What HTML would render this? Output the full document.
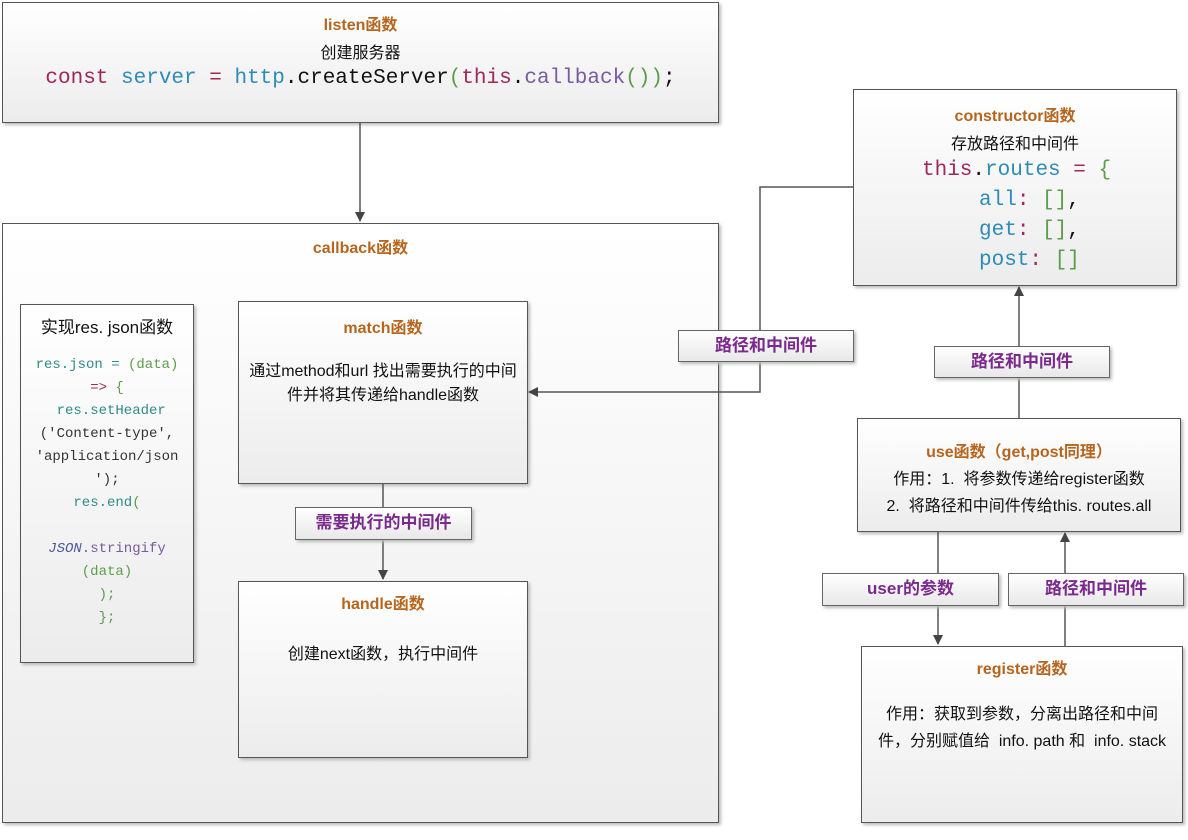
<!DOCTYPE html>
<html><head><meta charset="utf-8"><style>
body{margin:0;width:1188px;height:840px;background:#fff;position:relative;overflow:hidden;font-family:"Liberation Sans","Noto Sans CJK SC",sans-serif;}
.b{position:absolute;box-sizing:border-box;border:1px solid #555;background:linear-gradient(#fff,#ececec);box-shadow:2px 2px 3px #bbb;text-align:center;font-size:16px;color:#111}
.t{color:#b5651d;font-weight:bold;font-size:16px}
.l{position:absolute;box-sizing:border-box;border:1px solid #666;background:linear-gradient(#fff,#e8e8e8);box-shadow:2px 2px 3px #bbb;text-align:center;color:#7a2a8c;font-weight:bold;font-size:17px;line-height:29px}
.m{font-family:"Liberation Mono",monospace}
svg{position:absolute;left:0;top:0}
</style></head><body>
<div class="b" style="left:2px;top:2px;width:717px;height:121px;padding-top:8px">
<div class="t">listen函数</div><div style="margin-top:4px">创建服务器</div>
<div class="m" style="font-size:21px;margin-top:4px"><span style="color:#a0275a">const</span> <span style="color:#2e8bb5">server</span> <span style="color:#a0275a">=</span> <span style="color:#2e8bb5">http</span>.createServer<span style="color:#5a9e4a">(</span><span style="color:#a0275a">this</span>.<span style="color:#7a5aa0">callback</span><span style="color:#5a9e4a">())</span>;</div>
</div>
<div class="b" style="left:2px;top:223px;width:717px;height:600px;padding-top:10px"><div class="t">callback函数</div></div>
<div class="b" style="left:20px;top:304px;width:174px;height:359px;padding-top:8px">
<div style="font-size:17px">实现res. json函数</div>
<div class="m" style="font-size:14px;line-height:23px;margin-top:16px;color:#2e8b8b">res.json = <span style="color:#5a9e4a">(data)</span><br><span style="color:#a0275a">=&gt;</span> <span style="color:#5a9e4a">{</span><br>&nbsp;res.setHeader<br><span style="color:#333">('Content-type',</span><br><span style="color:#333">'application/json</span><br><span style="color:#333">');</span><br>res.end<span style="color:#5a9e4a">(</span><br><br><i style="color:#4a5aa0">JSON</i><span style="color:#7a5aa0">.stringify</span><br><span style="color:#5a9e4a">(data)</span><br><span style="color:#5a9e4a">);</span><br><span style="color:#5a9e4a">};</span></div>
</div>
<div class="b" style="left:238px;top:301px;width:290px;height:183px;padding-top:12px">
<div class="t">match函数</div><div style="margin-top:22px;line-height:24px;padding:0 10px">通过method和url&nbsp;找出需要执行的中间件并将其传递给handle函数</div></div>
<div class="b" style="left:238px;top:581px;width:290px;height:177px;padding-top:8px">
<div class="t">handle函数</div><div style="margin-top:26px">创建next函数，执行中间件</div></div>
<div class="b" style="left:853px;top:89px;width:324px;height:197px;padding-top:12px">
<div class="t">constructor函数</div><div style="margin-top:4px">存放路径和中间件</div>
<div class="m" style="font-size:21px;line-height:30px;text-align:left;padding-left:68px;margin-top:2px"><span style="color:#a0275a">this</span>.<span style="color:#2e8bb5">routes</span> <span style="color:#a0275a">=</span> <span style="color:#5a9e4a">{</span><br><span style="margin-left:57px;color:#2e8bb5">all</span><span style="color:#a0275a">:</span> <span style="color:#5a9e4a">[]</span>,<br><span style="margin-left:57px;color:#2e8bb5">get</span><span style="color:#a0275a">:</span> <span style="color:#5a9e4a">[]</span>,<br><span style="margin-left:57px;color:#2e8bb5">post</span><span style="color:#a0275a">:</span> <span style="color:#5a9e4a">[]</span></div></div>
<div class="b" style="left:857px;top:418px;width:324px;height:114px;padding-top:20px;line-height:27px">
<div class="t">use函数（get,post同理）</div><div>作用：1.&nbsp; 将参数传递给register函数</div><div>2.&nbsp; 将路径和中间件传给this. routes.all</div></div>
<div class="b" style="left:861px;top:646px;width:322px;height:177px;padding-top:8px">
<div class="t">register函数</div><div style="margin-top:22px;line-height:27px;padding:0 10px">作用：获取到参数，分离出路径和中间件，分别赋值给&nbsp; info. path 和&nbsp; info. stack</div></div>
<svg width="1188" height="840">
<defs><marker id="a" markerWidth="10" markerHeight="10" refX="9" refY="5" orient="auto" markerUnits="userSpaceOnUse"><path d="M0,0 L10,5 L0,10z" fill="#444"/></marker></defs>
<g stroke="#555" stroke-width="1.5" fill="none">
<path d="M360,123 V221" marker-end="url(#a)"/>
<path d="M853,187 H760 V392 H529" marker-end="url(#a)"/>
<path d="M383,484 V579" marker-end="url(#a)"/>
<path d="M1019,418 V287" marker-end="url(#a)"/>
<path d="M938,532 V644" marker-end="url(#a)"/>
<path d="M1065,646 V533" marker-end="url(#a)"/>
</g></svg>
<div class="l" style="left:678px;top:330px;width:176px;height:32px">路径和中间件</div>
<div class="l" style="left:934px;top:346px;width:176px;height:32px">路径和中间件</div>
<div class="l" style="left:295px;top:507px;width:177px;height:33px">需要执行的中间件</div>
<div class="l" style="left:822px;top:573px;width:177px;height:33px">user的参数</div>
<div class="l" style="left:1008px;top:573px;width:176px;height:33px">路径和中间件</div>
</body></html>
